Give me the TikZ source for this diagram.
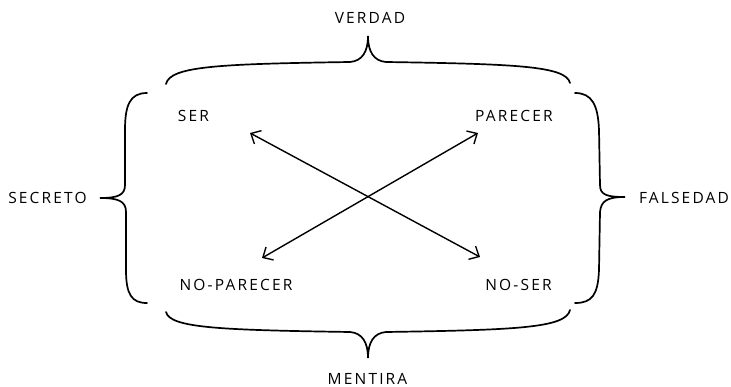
\documentclass[tikz,border=0pt]{standalone}
\usepackage{fontspec}
\setmainfont{Open Sans}[LetterSpace=14]
\usetikzlibrary{arrows.meta}
\begin{document}
\begin{tikzpicture}[x=1pt,y=-1pt,
  lbl/.style={inner sep=0pt, font=\fontsize{15.5}{18}\selectfont},
  brace/.style={line width=1.7pt, line cap=round},
  dbl/.style={line width=1.4pt, {Straight Barb[length=8pt,width=15pt]}-{Straight Barb[length=8pt,width=15pt]}}]
\useasboundingbox (0,0) rectangle (731,387);
% labels
\node[lbl] (verdad)   at (370,17.5)  {VERDAD};
\node[lbl] (mentira)  at (367.5,378.5) {MENTIRA};
\node[lbl] (secreto)  at (47.5,198)  {SECRETO};
\node[lbl] (falsedad) at (684,197.5) {FALSEDAD};
\node[lbl] (ser)      at (193.5,115.5) {SER};
\node[lbl] (parecer)  at (514,115.5) {PARECER};
\node[lbl] (noparecer) at (236,284.5) {NO-PARECER};
\node[lbl] (noser)    at (518.5,284.5) {NO-SER};
% braces
\draw[brace] (166,84) .. controls (170,66) and (220,64) .. (350,62)
  .. controls (362,61) and (368,52) .. (368,36)
  .. controls (368,52) and (374,61) .. (386,62)
  .. controls (516,64) and (566,66) .. (570,83);
\draw[brace] (166,312) .. controls (170,328) and (220,330) .. (350,332)
  .. controls (362,333) and (368,342) .. (368,358)
  .. controls (368,342) and (374,333) .. (386,332)
  .. controls (516,330) and (566,328) .. (570,310);
\draw[brace] (147,93) .. controls (130,93) and (125,105) .. (125,130) -- (125,185)
  .. controls (125,195) and (118,198) .. (100,198)
  .. controls (118,198) and (126,201) .. (126,212) -- (126,270)
  .. controls (126,295) and (132,303) .. (147,303);
\draw[brace] (575,93) .. controls (592,93) and (598,105) .. (599,130) -- (600,185)
  .. controls (600,195) and (607,197) .. (625,197)
  .. controls (607,197) and (601,201) .. (600,212) -- (599,270)
  .. controls (598,295) and (592,303) .. (575,303);
% arrows
\coordinate (sA)  at (250,133);
\coordinate (nsA) at (480,257);
\coordinate (npA) at (262,258);
\coordinate (pA)  at (478,133);
\draw[dbl] (sA) -- (nsA);
\draw[dbl] (npA) -- (pA);
\end{tikzpicture}
\end{document}
